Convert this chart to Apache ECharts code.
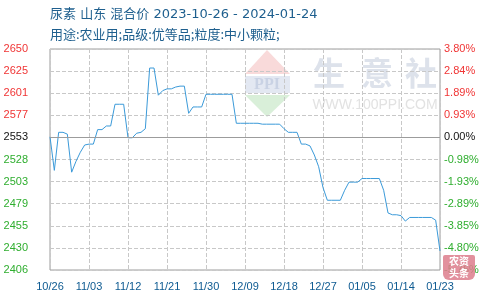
<!DOCTYPE html>
<html>
<head>
<meta charset="utf-8">
<script src="https://cdn.jsdelivr.net/npm/echarts@6/dist/echarts.min.js"></script>
<style>html,body{margin:0;padding:0;background:#fff}#c{width:490px;height:300px}</style>
</head>
<body>
<div id="c"></div>
<script>
var titleText = '尿素 山东 混合价 2023-10-26 - 2024-01-24';
var subText = '用途:农业用;品级:优等品;粒度:中小颗粒;';
var startDate = '2023-10-26';
var basePrice = 2553;
var priceMin = 2406, priceMax = 2650;
var xLabels = ['10/26','11/03','11/12','11/21','11/30','12/09','12/18','12/27','01/05','01/14','01/23'];
var leftLabels = ['2650','2625','2601','2577','2553','2528','2503','2479','2455','2430','2406'];
var rightLabels = ['3.80%','2.84%','1.89%','0.93%','0.00%','-0.98%','-1.93%','-2.89%','-3.85%','-4.80%','-5.76%'];
var prices = [
  2553,2516,2558,2558,2556,2514,2526,2536,2544,2545,
  2545,2561,2561,2565,2565,2589,2589,2589,2552,2552,
  2557,2558,2562,2629,2629,2599,2604,2606,2606,2608,
  2609,2609,2579,2586,2586,2586,2600,2600,2600,2600,
  2600,2600,2600,2568,2568,2568,2568,2568,2568,2567,
  2567,2567,2567,2567,2562,2558,2558,2558,2545,2545,
  2543,2533,2520,2497,2483,2483,2483,2483,2494,2503,
  2503,2503,2507,2507,2507,2507,2507,2494,2469,2467,
  2467,2466,2460,2464,2464,2464,2464,2464,2464,2461,
  2427
];

// daily date categories starting from startDate
var dates = [];
(function(){
  var p = startDate.split('-');
  var t = Date.UTC(+p[0], +p[1]-1, +p[2]);
  for (var i = 0; i < prices.length; i++) {
    var d = new Date(t + i*86400000);
    dates.push(d.getUTCFullYear() + '-' + ('0'+(d.getUTCMonth()+1)).slice(-2) + '-' + ('0'+d.getUTCDate()).slice(-2));
  }
})();

var RED = '#f03535', GREEN = '#2fae2f', BLACK = '#111';
var nTicks = leftLabels.length - 1;
function labelStyle(idx){ return idx < 4 ? 'r' : (idx === 4 ? 'k' : 'g'); }
var rich = {
  r:{color:RED, fontSize:11, fontFamily:'Liberation Sans'},
  k:{color:BLACK, fontSize:11, fontFamily:'Liberation Sans'},
  g:{color:GREEN, fontSize:11, fontFamily:'Liberation Sans'}
};

var chart = echarts.init(document.getElementById('c'), null, {renderer:'canvas'});
chart.setOption({
  animation:false,
  backgroundColor:'#fff',
  grid:{left:50, right:50, top:49, bottom:30, show:true, borderColor:'#9c9c9c', borderWidth:1, backgroundColor:'transparent'},
  graphic:[
    {type:'polygon', z:-5, shape:{points:[[267,50],[245,74],[290,74]]}, style:{fill:'#f9dada'}},
    {type:'rect', z:-5, shape:{x:245,y:76,width:45,height:17}, style:{fill:'#e3e8f2'}},
    {type:'text', z:-4, style:{text:'PPI', x:267, y:85, align:'center', verticalAlign:'middle', font:'bold 16px "Liberation Serif"', fill:'#c9d2e4'}},
    {type:'polygon', z:-5, shape:{points:[[245,95],[290,95],[267,117]]}, style:{fill:'#d9efd9'}},
    {type:'text', z:-4, style:{text:'生', x:329, y:73, align:'center', verticalAlign:'middle', font:'bold 32px "Noto Sans CJK SC"', fill:'#dde2eb'}},
    {type:'text', z:-4, style:{text:'意', x:377, y:73, align:'center', verticalAlign:'middle', font:'bold 32px "Noto Sans CJK SC"', fill:'#dde2eb'}},
    {type:'text', z:-4, style:{text:'社', x:421, y:73, align:'center', verticalAlign:'middle', font:'bold 32px "Noto Sans CJK SC"', fill:'#dde2eb'}},
    {type:'text', z:-4, style:{text:'WWW.100PPI.COM', x:375, y:105, align:'center', verticalAlign:'middle', font:'14px "Liberation Sans"', fill:'#e2e2e2'}},
    {type:'text', z:10, style:{text:titleText, x:50, y:15, verticalAlign:'middle', font:'13px "DejaVu Sans", "Noto Sans CJK SC"', fill:'#1e5f8e'}},
    {type:'text', z:10, style:{text:subText, x:50, y:34, verticalAlign:'middle', font:'13px "Noto Sans CJK SC"', fill:'#1e5f8e'}},
    {type:'rect', z:100, shape:{x:443,y:255,width:32,height:25,r:[2,2,6,6]}, style:{fill:'rgba(221,125,140,0.85)'}},
    {type:'text', z:101, style:{text:'农资', x:459, y:261, align:'center', verticalAlign:'middle', font:'bold 10px "Noto Sans CJK SC"', fill:'#fff'}},
    {type:'text', z:101, style:{text:'头条', x:459, y:273, align:'center', verticalAlign:'middle', font:'bold 10px "Noto Sans CJK SC"', fill:'#fff'}}
  ],
  xAxis:[
    {type:'category', data:xLabels, boundaryGap:false, position:'bottom',
     axisLine:{show:false}, axisTick:{show:false},
     axisLabel:{interval:0, margin:11, color:'#0d5a91', fontSize:11, fontFamily:'Liberation Sans'},
     splitLine:{show:true, lineStyle:{color:'#c8c8c8', type:[4,2], width:1}}},
    {type:'category', data:dates, boundaryGap:false, show:false}
  ],
  yAxis:[
    {type:'value', min:0, max:nTicks, interval:1, position:'left',
     axisLine:{show:false}, axisTick:{show:false},
     axisLabel:{margin:22, formatter:function(v){var i=nTicks-v; return '{'+labelStyle(i)+'|'+leftLabels[i]+'}';}, rich:rich},
     splitLine:{show:true, lineStyle:{color:'#c8c8c8', type:[4,2], width:1}}},
    {type:'value', min:0, max:nTicks, interval:1, position:'right',
     axisLine:{show:false}, axisTick:{show:false},
     axisLabel:{margin:4, align:'left', formatter:function(v){var i=nTicks-v; return '{'+labelStyle(i)+'|'+rightLabels[i]+'}';}, rich:rich},
     splitLine:{show:false}},
    {type:'value', min:priceMin, max:priceMax, show:false, splitLine:{show:false}}
  ],
  series:[{
    type:'line', xAxisIndex:1, yAxisIndex:2, data:prices,
    showSymbol:false, symbol:'none',
    lineStyle:{color:'#3b9ad9', width:1},
    markLine:{silent:true, symbol:['none','none'], label:{show:false},
      lineStyle:{color:'#9c9c9c', type:'solid', width:1},
      data:[{yAxis:basePrice}]}
  }]
});
</script>
</body>
</html>
